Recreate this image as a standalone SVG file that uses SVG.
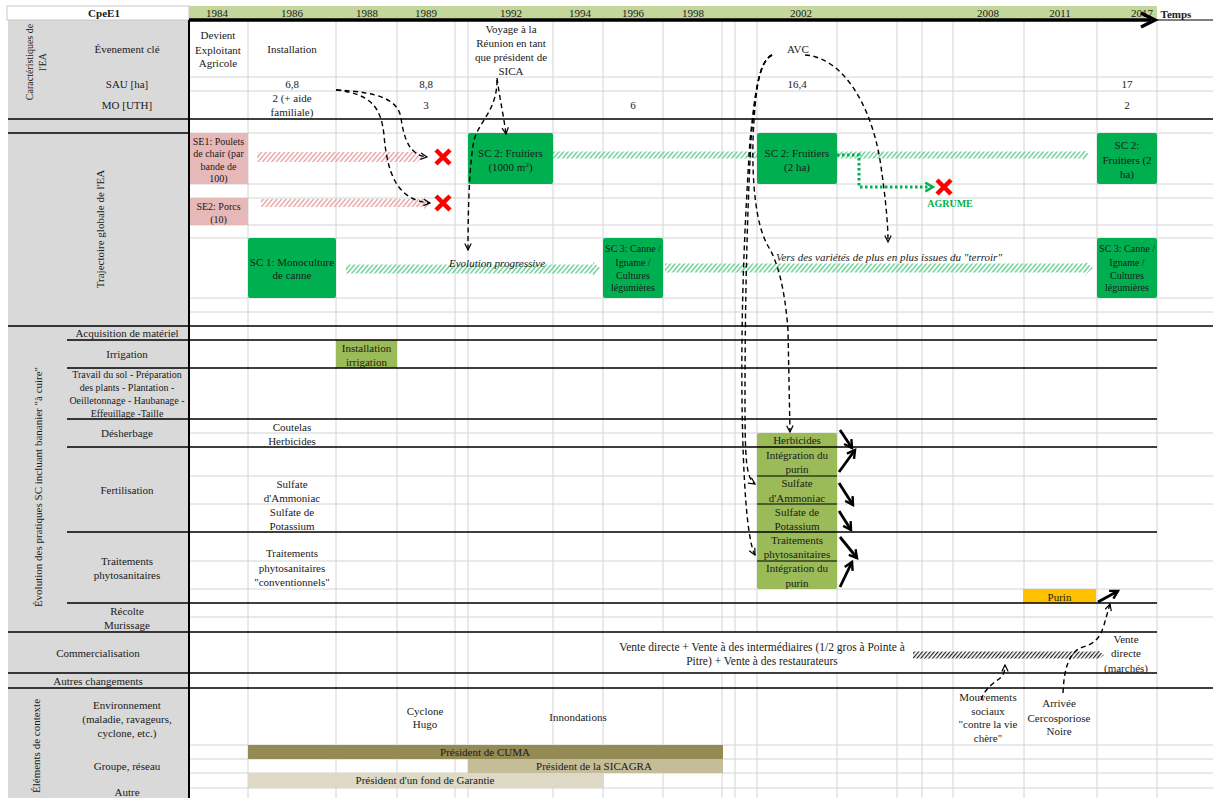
<svg xmlns="http://www.w3.org/2000/svg" width="1213" height="798" viewBox="0 0 1213 798">
<style>
.t{font-family:"Liberation Serif","Times New Roman",serif;font-size:11px;fill:#1a1a1a;text-anchor:middle}
.s10{font-size:10px}
.s115{font-size:11.5px}
.b{font-weight:bold}
.i{font-style:italic}
.g{stroke:#d4d4d4;stroke-width:1;fill:none}
.k{stroke:#000;stroke-width:1.5;fill:none}
.dash{fill:none;stroke:#000;stroke-width:1.4;stroke-dasharray:5 3.5}
.thick{stroke:#000;stroke-width:2.8;fill:none}
.sc{fill:#00b050}
.pr{fill:#9bbb59}
.se{fill:#e6b8b7}
.x{stroke:#ff0000;stroke-width:4.5;fill:none}
</style>
<defs>
<pattern id="hpink" width="3.5" height="12" patternUnits="userSpaceOnUse" patternTransform="rotate(40)"><rect width="1.3" height="12" fill="#e79a9a"/></pattern>
<pattern id="hgreen" width="3.5" height="12" patternUnits="userSpaceOnUse" patternTransform="rotate(40)"><rect width="1.4" height="12" fill="#62cf8f"/></pattern>
<pattern id="hblack" width="3" height="12" patternUnits="userSpaceOnUse" patternTransform="rotate(40)"><rect width="1.2" height="12" fill="#222"/></pattern>
<marker id="ah" viewBox="0 0 10 10" refX="9" refY="5" markerWidth="8" markerHeight="8" orient="auto" markerUnits="userSpaceOnUse"><path d="M1,1 L9,5 L1,9" fill="none" stroke="#000" stroke-width="1.5" stroke-dasharray="none"/></marker>
<marker id="ahb" viewBox="0 0 10 10" refX="8" refY="5" markerWidth="11" markerHeight="11" orient="auto" markerUnits="userSpaceOnUse"><path d="M1,1 L8,5 L1,9" fill="none" stroke="#000" stroke-width="2.2"/></marker>
<marker id="ahg" viewBox="0 0 10 10" refX="8" refY="5" markerWidth="11" markerHeight="11" orient="auto" markerUnits="userSpaceOnUse"><path d="M1,1 L8,5 L1,9" fill="none" stroke="#00b050" stroke-width="2.2" stroke-dasharray="none"/></marker>
</defs>
<rect width="1213" height="798" fill="#fff"/>
<g id="background">
<rect x="8" y="20" width="181" height="778" fill="#d9d9d9"/>
<rect x="7" y="6" width="182" height="14" fill="#fff" stroke="#c8c8c8" stroke-width="1"/>
<rect x="189" y="6" width="968" height="14" fill="#c4d79b"/>
</g>
<g id="grid">
<path class="g" d="M248,20V798M336,20V798M397,20V798M455,20V798M468,20V798M553,20V798M603,20V798M663,20V798M722,20V798M735,20V798M757,20V798M837,20V798M897,20V798M922,20V798M953,20V798M1024,20V798M1097,20V798M1157,20V798"/>
<path class="g" d="M189,77H1213M189,91H1213M189,133H1213M189,184H1213M189,198H1213M189,225H1213M189,238H1213M189,298H1213M189,312H1213M189,433H1213M189,476H1213M189,504H1213M189,561H1213M189,589H1213M189,617H1213M189,745H1213M189,759H1213M189,773H1213M189,788H1213"/>
<rect x="604" y="633" width="317" height="39" fill="#fff"/>
</g>
<g id="hatched-arrows">
<polygon points="257,152 415,152 415,150 423,157 415,164 415,162 257,162" fill="url(#hpink)"/>
<polygon points="261,199 424,199 424,197 431,203 424,209 424,207 261,207" fill="url(#hpink)"/>
<polygon points="553,151.5 1083,151.5 1083,149.5 1090,155 1083,160.5 1083,158.5 553,158.5" fill="url(#hgreen)"/>
<polygon points="346,264.5 593,264.5 593,262 601,269 593,276 593,273.5 346,273.5" fill="url(#hgreen)"/>
<polygon points="665,263.5 1085,263.5 1085,261 1093,268 1085,275 1085,272.5 665,272.5" fill="url(#hgreen)"/>
<polygon points="913,651.5 1098,651.5 1098,650 1104,655 1098,660 1098,658.5 913,658.5" fill="url(#hblack)"/>
</g>
<g id="node-SE1"><rect class="se" x="189" y="133" width="59" height="51"/>
<text class="t s10" x="218.5" y="144.5">SE1: Poulets</text><text class="t s10" x="218.5" y="157">de chair (par</text><text class="t s10" x="218.5" y="169.5">bande de</text><text class="t s10" x="218.5" y="182">100)</text></g>
<g id="node-SE2"><rect class="se" x="189" y="198" width="59" height="27"/>
<text class="t s10" x="218.5" y="209.5">SE2: Porcs</text><text class="t s10" x="218.5" y="222.5">(10)</text></g>
<g id="node-SC1"><rect class="sc" x="248" y="238" width="88" height="60" rx="2"/>
<text class="t" x="292" y="266">SC 1: Monoculture</text><text class="t" x="292" y="279">de canne</text></g>
<g id="node-SC2a"><rect class="sc" x="468" y="133" width="85" height="51" rx="2"/>
<text class="t" x="510.5" y="157">SC 2: Fruitiers</text><text class="t" x="510.5" y="171">(1000 m<tspan font-size="7" dy="-4">2</tspan><tspan dy="4">)</tspan></text></g>
<g id="node-SC3a"><rect class="sc" x="603" y="238" width="60" height="60" rx="2"/>
<text class="t s10" x="633" y="252">SC 3: Canne /</text><text class="t s10" x="633" y="266">Igname /</text><text class="t s10" x="633" y="279">Cultures</text><text class="t s10" x="633" y="291">légumières</text></g>
<g id="node-SC2b"><rect class="sc" x="757" y="133" width="80" height="51" rx="2"/>
<text class="t" x="797" y="157">SC 2: Fruitiers</text><text class="t" x="797" y="171">(2 ha)</text></g>
<g id="node-SC2c"><rect class="sc" x="1097" y="133" width="60" height="51" rx="2"/>
<text class="t" x="1127" y="149">SC 2:</text><text class="t" x="1127" y="164">Fruitiers (2</text><text class="t" x="1127" y="178">ha)</text></g>
<g id="node-SC3b"><rect class="sc" x="1097" y="238" width="60" height="60" rx="2"/>
<text class="t s10" x="1127" y="252">SC 3: Canne /</text><text class="t s10" x="1127" y="266">Igname /</text><text class="t s10" x="1127" y="279">Cultures</text><text class="t s10" x="1127" y="291">légumières</text></g>
<g id="node-irrigation"><rect class="pr" x="336" y="340" width="61" height="28"/>
<text class="t" x="366.5" y="352">Installation</text><text class="t" x="366.5" y="366">irrigation</text></g>
<g id="node-pratiques2002"><rect class="pr" x="757" y="433" width="80" height="156" rx="2"/>
<path d="M757,476H837M757,504H837M757,561H837" stroke="#000" stroke-width="1.2"/>
<text class="t" x="797" y="444">Herbicides</text>
<text class="t" x="797" y="459">Intégration du</text><text class="t" x="797" y="473">purin</text>
<text class="t" x="797" y="487">Sulfate</text><text class="t" x="797" y="502">d'Ammoniac</text>
<text class="t" x="797" y="516">Sulfate de</text><text class="t" x="797" y="530">Potassium</text>
<text class="t" x="797" y="544">Traitements</text><text class="t" x="797" y="558">phytosanitaires</text>
<text class="t" x="797" y="572">Intégration du</text><text class="t" x="797" y="587">purin</text></g>
<g id="node-purin"><rect x="1023" y="589" width="73" height="14" fill="#ffc000"/>
<text class="t" x="1059.5" y="600.5">Purin</text></g>
<g id="node-bars">
<rect x="248" y="745" width="475" height="14" fill="#948a54"/>
<rect x="468" y="759" width="255" height="14" fill="#c4bd97"/>
<rect x="248" y="773" width="356" height="15" fill="#ddd9c4"/>
<text class="t" x="485" y="756">Président de CUMA</text>
<text class="t" x="594" y="770">Président de la SICAGRA</text>
<text class="t" x="425" y="784">Président d'un fond de Garantie</text>
</g>
<g id="lines">
<path class="k" d="M8,119H1213M8,133H189M8,326H1213M8,688H1213M8,632H1157M8,673H1157"/>
<path class="k" d="M67,340H1157M67,368H1157M67,419H1157M67,447H1157M67,532H1157M67,603H1157"/>
<path d="M189,20V798" stroke="#000" stroke-width="2"/>
<path d="M1157,20H1213" stroke="#000" stroke-width="1"/>
</g>
<g id="header">
<text class="t b" x="104" y="17">CpeE1</text>
<text class="t" x="217" y="17">1984</text>
<text class="t" x="292" y="17">1986</text>
<text class="t" x="367" y="17">1988</text>
<text class="t" x="426" y="17">1989</text>
<text class="t" x="511" y="17">1992</text>
<text class="t" x="580" y="17">1994</text>
<text class="t" x="633" y="17">1996</text>
<text class="t" x="693" y="17">1998</text>
<text class="t" x="801" y="17">2002</text>
<text class="t" x="988" y="17">2008</text>
<text class="t" x="1060" y="17">2011</text>
<text class="t" x="1142" y="17">2017</text>
<text class="t b" x="1176" y="18">Temps</text>
<path d="M189,20H1151" stroke="#000" stroke-width="3.5"/>
<path d="M1141,13L1155,20L1141,27" stroke="#000" stroke-width="3.5" fill="none"/>
</g>
<g id="labels">
<text class="t s10" transform="translate(33,62) rotate(-90)">Caractéristiques de</text>
<text class="t s10" transform="translate(46,62) rotate(-90)">l'EA</text>
<text class="t" x="127" y="53">Évenement clé</text>
<text class="t" x="127" y="88">SAU [ha]</text>
<text class="t" x="127" y="109">MO [UTH]</text>
<text class="t" transform="translate(104,229) rotate(-90)">Trajectoire globale de l'EA</text>
<text class="t" transform="translate(42,487) rotate(-90)">Évolution des pratiques SC incluant bananier "à cuire"</text>
<text class="t" x="127" y="337">Acquisition de matériel</text>
<text class="t" x="127" y="358">Irrigation</text>
<text class="t s10" x="127" y="377.5">Travail du sol - Préparation</text>
<text class="t s10" x="127" y="391">des plants - Plantation -</text>
<text class="t s10" x="127" y="404">Oeilletonnage - Haubanage -</text>
<text class="t s10" x="127" y="416.5">Effeuillage -Taille</text>
<text class="t" x="127" y="437">Désherbage</text>
<text class="t" x="127" y="494">Fertilisation</text>
<text class="t" x="127" y="565">Traitements</text>
<text class="t" x="127" y="579">phytosanitaires</text>
<text class="t" x="127" y="615">Récolte</text>
<text class="t" x="127" y="629">Murissage</text>
<text class="t" x="98" y="657">Commercialisation</text>
<text class="t" x="98" y="685">Autres changements</text>
<text class="t" transform="translate(40,746) rotate(-90)">Éléments de contexte</text>
<text class="t" x="127" y="709">Environnement</text>
<text class="t" x="127" y="723">(maladie, ravageurs,</text>
<text class="t" x="127" y="737">cyclone, etc.)</text>
<text class="t" x="127" y="770">Groupe, réseau</text>
<text class="t" x="127" y="796">Autre</text>
</g>
<g id="cells">
<text class="t" x="218" y="39">Devient</text><text class="t" x="218" y="54">Exploitant</text><text class="t" x="218" y="67">Agricole</text>
<text class="t" x="292" y="53">Installation</text>
<text class="t" x="511" y="33">Voyage à la</text><text class="t" x="511" y="47">Réunion en tant</text><text class="t" x="511" y="61">que président de</text><text class="t" x="511" y="75">SICA</text>
<text class="t" x="798" y="53">AVC</text>
<text class="t" x="292" y="88">6,8</text><text class="t" x="426" y="88">8,8</text><text class="t" x="797" y="88">16,4</text><text class="t" x="1127" y="88">17</text>
<text class="t" x="292" y="102">2 (+ aide</text><text class="t" x="292" y="116">familiale)</text>
<text class="t" x="426" y="109">3</text><text class="t" x="633" y="109">6</text><text class="t" x="1127" y="109">2</text>
<text class="t i" x="497" y="267">Evolution progressive</text>
<text class="t i" x="889" y="261">Vers des variétés de plus en plus issues du "terroir"</text>
<text class="t b s10" x="950" y="207" style="fill:#00b050">AGRUME</text>
<text class="t" x="292" y="431">Coutelas</text><text class="t" x="292" y="445">Herbicides</text>
<text class="t" x="292" y="488">Sulfate</text><text class="t" x="292" y="502">d'Ammoniac</text>
<text class="t" x="292" y="516">Sulfate de</text><text class="t" x="292" y="530">Potassium</text>
<text class="t" x="292" y="557">Traitements</text><text class="t" x="292" y="572">phytosanitaires</text><text class="t" x="292" y="586">"conventionnels"</text>
<text class="t s115" x="762" y="651">Vente directe + Vente à des intermédiaires (1/2 gros à Pointe à</text>
<text class="t s115" x="762" y="665">Pitre) + Vente à des restaurateurs</text>
<text class="t" x="1126" y="643">Vente</text><text class="t" x="1126" y="657">directe</text><text class="t" x="1126" y="672">(marchés)</text>
<text class="t" x="425" y="715">Cyclone</text><text class="t" x="425" y="728">Hugo</text>
<text class="t" x="578" y="721">Innondations</text>
<text class="t" x="988" y="701">Mouvements</text><text class="t" x="988" y="715">sociaux</text><text class="t" x="988" y="728">"contre la vie</text><text class="t" x="988" y="742">chère"</text>
<text class="t" x="1059" y="707">Arrivée</text><text class="t" x="1059" y="722">Cercosporiose</text><text class="t" x="1059" y="735">Noire</text>
</g>
<g id="marks">
<path class="x" d="M436,150L450,164M450,150L436,164"/>
<path class="x" d="M436,196L450,210M450,196L436,210"/>
<path class="x" d="M937,180L951,194M951,180L937,194"/>
</g>
<g id="connectors">
<path class="dash" d="M336,90C380,92 398,100 401,118C404,140 410,155 427,157" marker-end="url(#ah)"/>
<path class="dash" d="M336,90C372,94 381,108 384,135C387,170 395,200 430,203" marker-end="url(#ah)"/>
<path class="dash" d="M497,78C500,100 504,118 506,134" marker-end="url(#ah)"/>
<path class="dash" d="M497,80C497,110 480,120 474,140C470,160 468,200 468,250" marker-end="url(#ah)"/>
<path class="dash" d="M805,55C840,57 870,100 880,160C886,200 888,225 888,242" marker-end="url(#ah)"/>
<path class="dash" d="M772,55C758,62 755,95 753,140C752,185 756,225 768,246C778,262 785,290 788,330L790,432" marker-end="url(#ah)"/>
<path class="dash" d="M772,55C758,62 755,95 751,140C747,220 745,300 745,400C745,460 746,478 755,484" marker-end="url(#ah)"/>
<path class="dash" d="M772,55C758,62 755,95 750,140C745,220 741,300 742,400C743,480 747,540 755,555" marker-end="url(#ah)"/>
<path class="dash" d="M981,700C985,688 995,682 999,679C1003,676 1005,672 1005,665" marker-end="url(#ah)"/>
<path class="dash" d="M1063,693C1064,670 1068,655 1080,648C1095,644 1100,638 1104,625L1110,604" marker-end="url(#ah)"/>
<path d="M837,155H859V187H933" fill="none" stroke="#00b050" stroke-width="3" stroke-dasharray="2.5 2.5" marker-end="url(#ahg)"/>
<path class="thick" d="M840,430L852,448" marker-end="url(#ahb)"/>
<path class="thick" d="M839,472L855,450" marker-end="url(#ahb)"/>
<path class="thick" d="M839,483L853,505" marker-end="url(#ahb)"/>
<path class="thick" d="M839,511L851,530" marker-end="url(#ahb)"/>
<path class="thick" d="M840,537L857,558" marker-end="url(#ahb)"/>
<path class="thick" d="M840,587L852,562" marker-end="url(#ahb)"/>
<path class="thick" d="M1098,602L1118,591" marker-end="url(#ahb)"/>
</g>
</svg>
